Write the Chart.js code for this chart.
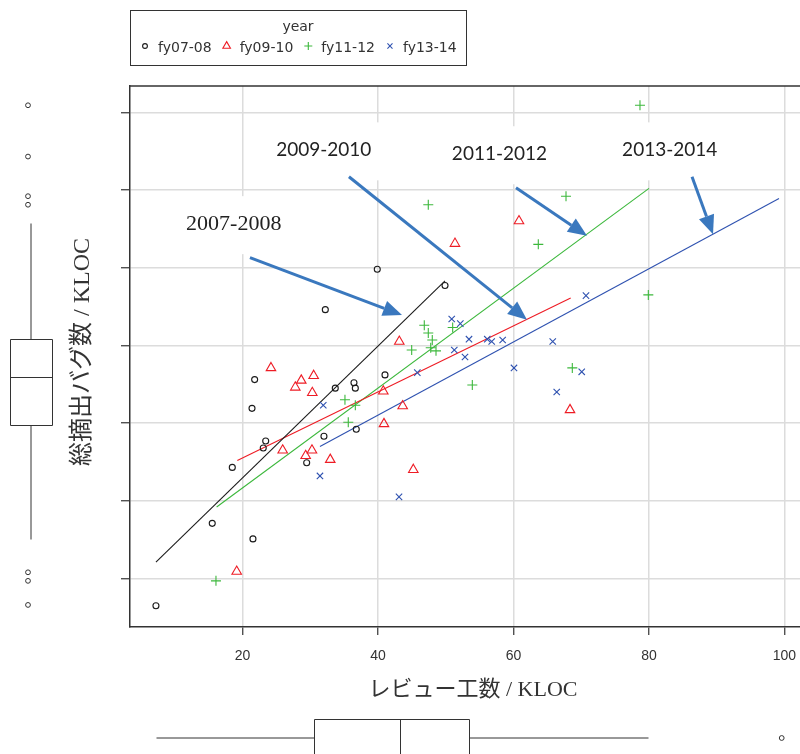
<!DOCTYPE html>
<html>
<head>
<meta charset="utf-8">
<script src="https://cdn.jsdelivr.net/npm/chart.js@4.4.1/dist/chart.umd.min.js"></script>
<style>
  body { margin: 0; background: #fff; }
  canvas { display: block; }
</style>
</head>
<body>
<canvas id="chart" width="800" height="754"></canvas>
<script>
// review effort / KLOC vs total bugs found / KLOC, by fiscal year
const groups = ['fy07-08', 'fy09-10', 'fy11-12', 'fy13-14']
const colors = ['#1a1a1a', '#ee1c25', '#3cb83c', '#2f52b0']
const markers = ['circle', 'triangle', 'cross', 'crossRot']

const x0708 = [7.23, 15.54, 21.55, 18.50, 23.07, 23.43, 21.41, 21.80, 29.48, 32.03, 33.70, 36.46, 36.66, 36.80, 41.04, 32.23, 39.90, 49.90]
const y0708 = [0.65, 1.71, 1.51, 2.43, 2.68, 2.77, 3.19, 3.56, 2.49, 2.83, 3.45, 3.52, 3.45, 2.92, 3.62, 4.46, 4.98, 4.77]
const x0910 = [24.21, 28.68, 30.51, 27.80, 30.31, 25.94, 29.33, 30.26, 32.96, 43.15, 40.79, 43.65, 40.89, 45.22, 19.15, 51.37, 60.82, 68.35]
const y0910 = [3.71, 3.55, 3.61, 3.46, 3.39, 2.65, 2.58, 2.65, 2.53, 4.05, 3.41, 3.22, 2.99, 2.40, 1.09, 5.31, 5.60, 3.17]
const x1112 = [16.09, 35.13, 36.66, 35.62, 44.98, 46.84, 47.43, 48.02, 47.79, 48.57, 51.03, 53.93, 47.43, 63.67, 67.76, 78.68, 79.91, 68.69]
const y1112 = [0.97, 3.30, 3.23, 3.01, 3.94, 4.26, 4.16, 4.07, 3.97, 3.93, 4.23, 3.49, 5.81, 5.30, 5.92, 7.09, 4.65, 3.71]
const x1314 = [31.44, 31.93, 43.11, 45.81, 50.89, 52.16, 51.27, 52.85, 53.44, 56.14, 56.79, 58.41, 60.08, 65.80, 66.39, 70.08, 70.71]
const y1314 = [2.32, 3.23, 2.05, 3.65, 4.34, 4.28, 3.94, 3.85, 4.08, 4.08, 4.05, 4.07, 3.71, 4.05, 3.40, 3.66, 4.64]

// fitted line end points per group
const fitX = [[7.23, 49.90], [19.24, 68.45], [16.19, 80.01], [31.44, 99.2]]
const fitY = [[1.21, 4.83], [2.52, 4.61], [1.92, 6.02], [2.70, 5.89]]

// marginal boxplots: whisker low, q1, median, q3, whisker high
const xBox = [7.26, 30.56, 43.30, 53.40, 79.9]
const xOut = [99.6]
const yBox = [1.51, 2.97, 3.59, 4.08, 5.58]
const yOut = [7.09, 6.43, 5.92, 5.81, 1.08, 0.97, 0.66]

const xTicks = [20, 40, 60, 80, 100]
const yTicks = [1, 2, 3, 4, 5, 6, 7]

// hand-drawn notes (data units)
const noteText = ['2007-2008', '2009-2010', '2011-2012', '2013-2014']
const noteX = [18.72, 32.0, 57.94, 83.07]
const noteY = [5.56, 6.51, 6.46, 6.51]
const arrowFrom = [[21.11, 5.13], [35.72, 6.17], [60.38, 6.03], [86.36, 6.17]]
const arrowTo = [[43.55, 4.39], [62.0, 4.33], [70.86, 5.41], [89.46, 5.43]]

const xTitle = 'レビュー工数 / KLOC'
const yTitle = '総摘出バグ数 / KLOC'
const legendTitle = 'year'

const serif = '"Liberation Serif", "Noto Sans CJK JP", serif'

const xs = [x0708, x0910, x1112, x1314]
const ys = [y0708, y0910, y1112, y1314]
const radii = [3, 5.5, 5, 4.5]

const datasets = []
for (let g = 0; g < groups.length; g++) {
    datasets.push({
        type: 'scatter',
        label: groups[g],
        data: xs[g].map((v, i) => ({x: v, y: ys[g][i]})),
        pointStyle: markers[g],
        radius: radii[g],
        borderColor: colors[g],
        backgroundColor: 'rgba(0,0,0,0)',
        borderWidth: 1.1,
        order: 1
    })
}
for (let g = 0; g < groups.length; g++) {
    datasets.push({
        type: 'line',
        label: groups[g] + ' fit',
        data: fitX[g].map((v, i) => ({x: v, y: fitY[g][i]})),
        borderColor: colors[g],
        borderWidth: 1.1,
        pointRadius: 0,
        fill: false,
        order: 2
    })
}

function drawMarker(ctx, style, x, y, r, color) {
    ctx.save()
    ctx.strokeStyle = color
    ctx.fillStyle = 'rgba(0,0,0,0)'
    ctx.lineWidth = 1.1
    Chart.helpers.drawPoint(ctx, {pointStyle: style, radius: r, borderWidth: 1.1}, x, y)
    ctx.restore()
}

const extras = {
    id: 'extras',
    beforeDatasetsDraw(chart) {
        const ctx = chart.ctx
        const xS = chart.scales.x, yS = chart.scales.y
        const a = chart.chartArea
        // white patches behind the notes
        ctx.save()
        ctx.fillStyle = '#fff'
        for (let i = 0; i < noteText.length; i++) {
            ctx.font = i == 0 ? '22px ' + serif : '19px Lato'
            const w = ctx.measureText(noteText[i]).width
            const cx = xS.getPixelForValue(noteX[i]), cy = yS.getPixelForValue(noteY[i])
            ctx.fillRect(cx - w / 2 - 18, cy - 28, w + 36, 58)
        }
        // top frame line
        ctx.strokeStyle = '#333'
        ctx.lineWidth = 1.5
        ctx.beginPath()
        ctx.moveTo(a.left, a.top)
        ctx.lineTo(a.right, a.top)
        ctx.stroke()
        ctx.restore()
    },
    afterDatasetsDraw(chart) {
        const ctx = chart.ctx
        const xS = chart.scales.x, yS = chart.scales.y
        ctx.save()

        // arrows
        ctx.strokeStyle = '#3a78be'
        ctx.fillStyle = '#3a78be'
        ctx.lineWidth = 3
        for (let i = 0; i < arrowFrom.length; i++) {
            const x1 = xS.getPixelForValue(arrowFrom[i][0]), y1 = yS.getPixelForValue(arrowFrom[i][1])
            const x2 = xS.getPixelForValue(arrowTo[i][0]), y2 = yS.getPixelForValue(arrowTo[i][1])
            const ang = Math.atan2(y2 - y1, x2 - x1)
            const len = 19, half = 8
            const bx = x2 - len * Math.cos(ang), by = y2 - len * Math.sin(ang)
            ctx.beginPath()
            ctx.moveTo(x1, y1)
            ctx.lineTo(bx, by)
            ctx.stroke()
            ctx.beginPath()
            ctx.moveTo(x2, y2)
            ctx.lineTo(bx + half * Math.sin(ang), by - half * Math.cos(ang))
            ctx.lineTo(bx - half * Math.sin(ang), by + half * Math.cos(ang))
            ctx.closePath()
            ctx.fill()
        }

        // note labels
        ctx.fillStyle = '#222'
        ctx.textAlign = 'center'
        ctx.textBaseline = 'middle'
        for (let i = 0; i < noteText.length; i++) {
            ctx.font = i == 0 ? '22px ' + serif : '19px Lato'
            ctx.fillText(noteText[i], xS.getPixelForValue(noteX[i]), yS.getPixelForValue(noteY[i]))
        }

        // axis titles
        ctx.fillStyle = '#333'
        ctx.font = '22px ' + serif
        ctx.fillText(xTitle, 473, 690)
        ctx.save()
        ctx.translate(83, 352)
        ctx.rotate(-Math.PI / 2)
        ctx.font = '24px ' + serif
        ctx.fillText(yTitle, 0, 0)
        ctx.restore()

        // boxplot on the left (y)
        ctx.strokeStyle = '#333'
        ctx.lineWidth = 1
        const bx = 31, bw = 21
        const yp = yBox.map(v => Math.round(yS.getPixelForValue(v)) + 0.5)
        ctx.beginPath()
        ctx.moveTo(bx, yp[0]); ctx.lineTo(bx, yp[1])
        ctx.moveTo(bx, yp[3]); ctx.lineTo(bx, yp[4])
        ctx.moveTo(bx - bw, yp[2]); ctx.lineTo(bx + bw, yp[2])
        ctx.rect(bx - bw + 0.5, yp[3], bw * 2, yp[1] - yp[3])
        ctx.stroke()
        for (const v of yOut) {
            ctx.beginPath()
            ctx.arc(28, yS.getPixelForValue(v), 2.4, 0, Math.PI * 2)
            ctx.stroke()
        }

        // boxplot at the bottom (x)
        const cy = 738, bh = 19
        const xp = xBox.map(v => Math.round(xS.getPixelForValue(v)) + 0.5)
        ctx.beginPath()
        ctx.moveTo(xp[0], cy); ctx.lineTo(xp[1], cy)
        ctx.moveTo(xp[3], cy); ctx.lineTo(xp[4], cy)
        ctx.moveTo(xp[2], cy - bh); ctx.lineTo(xp[2], cy + bh)
        ctx.rect(xp[1], cy - bh + 0.5, xp[3] - xp[1], bh * 2)
        ctx.stroke()
        for (const v of xOut) {
            ctx.beginPath()
            ctx.arc(xS.getPixelForValue(v), cy, 2.4, 0, Math.PI * 2)
            ctx.stroke()
        }

        // legend box
        ctx.lineWidth = 1
        ctx.strokeRect(130.5, 10.5, 336, 55)
        ctx.fillStyle = '#333'
        ctx.font = '14px "DejaVu Sans"'
        ctx.fillText(legendTitle, 298, 27)
        ctx.textAlign = 'left'
        let lx = 145
        for (let g = 0; g < groups.length; g++) {
            drawMarker(ctx, markers[g], lx, 46, radii[g] * 0.8, colors[g])
            ctx.fillStyle = '#333'
            ctx.fillText(groups[g], lx + 13, 48)
            lx += 13 + ctx.measureText(groups[g]).width + 15
        }
        ctx.restore()
    }
}

new Chart(document.getElementById('chart'), {
    data: { datasets: datasets },
    options: {
        responsive: false,
        animation: false,
        layout: { autoPadding: false, padding: { top: 86, right: 0, left: 0, bottom: 0 } },
        plugins: { legend: { display: false }, tooltip: { enabled: false } },
        scales: {
            x: {
                type: 'linear',
                min: 3.4,
                max: 102.3,
                afterBuildTicks: s => { s.ticks = xTicks.map(v => ({value: v})) },
                afterFit: s => { s.height = 127; s.paddingLeft = 0; s.paddingRight = 0 },
                grid: { color: '#dcdcdc', lineWidth: 1.5, tickColor: '#333', tickLength: 8, tickWidth: 1.2 },
                border: { color: '#333', width: 1.5 },
                ticks: { color: '#333', font: { family: 'Liberation Sans', size: 14 }, padding: 13, maxRotation: 0 }
            },
            y: {
                type: 'linear',
                min: 0.376,
                max: 7.338,
                afterBuildTicks: s => { s.ticks = yTicks.map(v => ({value: v})) },
                afterFit: s => { s.width = 130; s.paddingTop = 0; s.paddingBottom = 0 },
                grid: { color: '#dcdcdc', lineWidth: 1.5, tickColor: '#333', tickLength: 9, tickWidth: 1.2 },
                border: { color: '#333', width: 1.5 },
                ticks: { callback: () => '' }
            }
        }
    },
    plugins: [extras]
})
</script>
</body>
</html>
